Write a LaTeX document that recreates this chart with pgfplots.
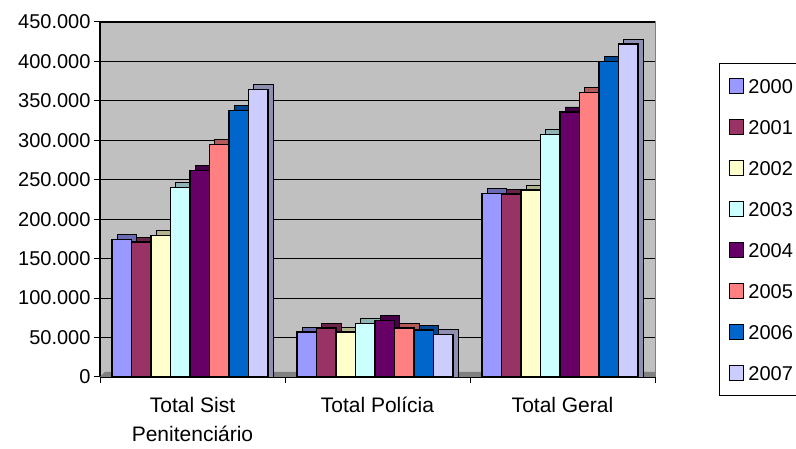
\documentclass[border=0pt]{standalone}
\usepackage{pgfplots}
\pgfplotsset{compat=1.18}
\usepackage{pgfplotstable}
\usepackage{fontspec}
\setmainfont{Liberation Sans}
\definecolor{c0}{HTML}{9999FF}
\definecolor{c1}{HTML}{993366}
\definecolor{c2}{HTML}{FFFFCC}
\definecolor{c3}{HTML}{CCFFFF}
\definecolor{c4}{HTML}{660066}
\definecolor{c5}{HTML}{FF8080}
\definecolor{c6}{HTML}{0066CC}
\definecolor{c7}{HTML}{CCCCFF}
\definecolor{wall}{HTML}{C0C0C0}

\pgfplotstableread{
x s0 s1 s2 s3 s4 s5 s6 s7
0 174000 171000 179000 240000 262000 295000 338000 364000
1 57000 62000 57000 68000 72000 62000 59500 54000
2 232500 232000 237000 307000 336000 361000 400000 422000
}\datatable

\pgfplotsset{
  front/.style={ybar, bar width=19.5pt, draw=black, line width=1.2pt, fill=#1,
    legend image code/.code={\draw[##1,/tikz/.cd,line width=1pt] (0pt,-7pt) rectangle (14pt,7.7pt);}},
  shade/.style={ybar, bar width=19.5pt, draw=black, line width=0.8pt, fill=#1!70!black, forget plot},
}

\begin{document}
\begin{tikzpicture}
\useasboundingbox (0pt,0pt) rectangle (796pt,449pt);
\clip (0pt,0pt) rectangle (796pt,449pt);
\begin{axis}[
  at={(100pt,72pt)}, anchor=south west,
  scale only axis, width=555pt, height=355pt,
  xmin=-0.5, xmax=2.5, ymin=0, ymax=450000,
  scaled y ticks=false,
  axis background/.style={fill=wall, draw=gray, line width=1pt},
  axis x line*=bottom, axis y line*=left,
  axis line style={-, black, line width=1.2pt},
  tick align=outside, major tick length=6pt,
  tick style={black, line width=1pt},
  ytick={0,50000,100000,150000,200000,250000,300000,350000,400000,450000},
  yticklabels={0,50.000,100.000,150.000,200.000,250.000,300.000,350.000,400.000,450.000},
  ymajorgrids, grid style={black, line width=1.2pt},
  xtick={-0.5,0.5,1.5,2.5}, xticklabels={,,,},
  extra x ticks={0,1,2},
  extra x tick labels={{Total Sist\\Penitenciário},{Total Polícia},{Total Geral}},
  extra x tick style={major tick length=0pt, xmajorgrids=false},
  y tick label style={font=\fontsize{20}{24}\selectfont},
  x tick label style={font=\fontsize{21}{29}\selectfont, align=center, yshift=-17pt},
  legend style={at={(1.1153,0.8845)}, anchor=north west, draw=black, line width=1pt,
    fill=white, font=\fontsize{20}{22}\selectfont,
    inner xsep=10pt, inner ysep=14.3pt, row sep=25.4pt,
    nodes={inner xsep=4pt, inner ysep=0pt, text height=14pt, text depth=0pt}},
  legend cell align=left,
]
\fill[gray] (rel axis cs:0,0) -- (rel axis cs:1,0) -- ([shift={(5pt,5pt)}]rel axis cs:1,0) -- ([shift={(5pt,5pt)}]rel axis cs:0,0) -- cycle;
\addplot[shade=c0, bar shift=-65.75pt] table[x=x, y expr=\thisrow{s0}+6300] {\datatable};
\addplot[shade=c1, bar shift=-46.25pt] table[x=x, y expr=\thisrow{s1}+6300] {\datatable};
\addplot[shade=c2, bar shift=-26.75pt] table[x=x, y expr=\thisrow{s2}+6300] {\datatable};
\addplot[shade=c3, bar shift=-7.25pt] table[x=x, y expr=\thisrow{s3}+6300] {\datatable};
\addplot[shade=c4, bar shift=12.25pt] table[x=x, y expr=\thisrow{s4}+6300] {\datatable};
\addplot[shade=c5, bar shift=31.75pt] table[x=x, y expr=\thisrow{s5}+6300] {\datatable};
\addplot[shade=c6, bar shift=51.25pt] table[x=x, y expr=\thisrow{s6}+6300] {\datatable};
\addplot[shade=c7, bar shift=70.75pt] table[x=x, y expr=\thisrow{s7}+6300] {\datatable};
\addplot[front=c0, bar shift=-70.75pt] table[x=x, y=s0] {\datatable};
\addplot[front=c1, bar shift=-51.25pt] table[x=x, y=s1] {\datatable};
\addplot[front=c2, bar shift=-31.75pt] table[x=x, y=s2] {\datatable};
\addplot[front=c3, bar shift=-12.25pt] table[x=x, y=s3] {\datatable};
\addplot[front=c4, bar shift=7.25pt] table[x=x, y=s4] {\datatable};
\addplot[front=c5, bar shift=26.75pt] table[x=x, y=s5] {\datatable};
\addplot[front=c6, bar shift=46.25pt] table[x=x, y=s6] {\datatable};
\addplot[front=c7, bar shift=65.75pt] table[x=x, y=s7] {\datatable};
\legend{2000,2001,2002,2003,2004,2005,2006,2007}
\end{axis}
\end{tikzpicture}
\end{document}
